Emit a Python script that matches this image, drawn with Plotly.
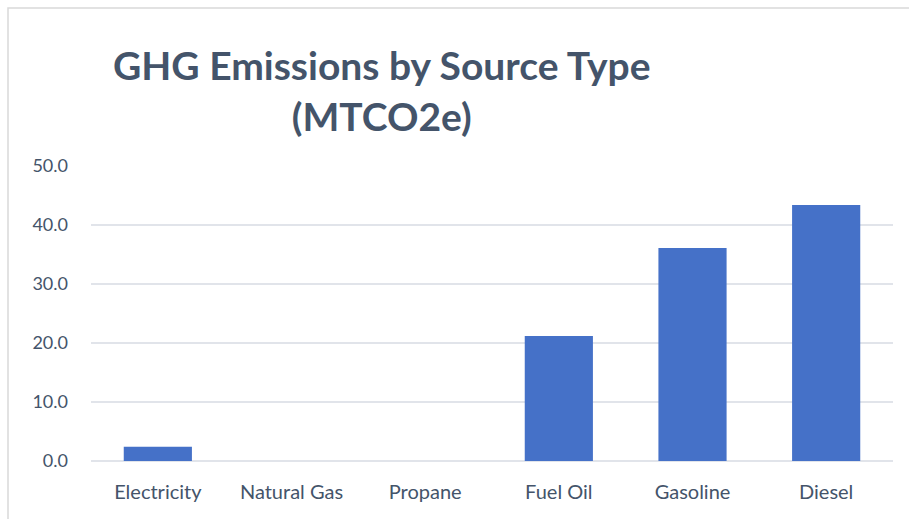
import plotly.graph_objects as go

categories = ["Electricity", "Natural Gas", "Propane", "Fuel Oil", "Gasoline", "Diesel"]
values = [2.4, 0.0, 0.0, 21.2, 36.1, 43.4]
y_ticks = [0, 10, 20, 30, 40, 50]
y_tick_labels = ["0.0", "10.0", "20.0", "30.0", "40.0", "50.0"]

text_color = "#44546A"
grid_color = "#E1E4EA"

fig = go.Figure()
fig.add_trace(go.Bar(
    x=categories, y=values,
    marker=dict(color="#4571C8", line=dict(width=0)),
    hoverinfo="x+y",
))

fig.update_layout(
    width=909, height=519,
    margin=dict(l=91, r=16, t=166, b=58),
    paper_bgcolor="white", plot_bgcolor="white",
    bargap=0.49,
    showlegend=False,
    font=dict(family="Lato, Open Sans, sans-serif", color=text_color, size=18),
    xaxis=dict(showgrid=False, showline=False, ticks="", ticklabelstandoff=17,
               tickfont=dict(size=20, color=text_color)),
    yaxis=dict(range=[0, 50], tickvals=y_ticks, ticktext=y_tick_labels,
               showgrid=True, gridcolor=grid_color, gridwidth=1.5,
               zeroline=True, zerolinecolor=grid_color, zerolinewidth=1.5,
               showline=False, ticks="", ticklabelstandoff=22,
               tickfont=dict(size=18, color=text_color)),
    annotations=[dict(
        text="<b>GHG Emissions by Source Type<br>(MTCO2e)</b>",
        xref="paper", yref="paper", x=(382 - 91) / 802, y=(461 - 40) / 295,
        xanchor="center", yanchor="top", showarrow=False, align="center",
        font=dict(size=39, color=text_color, family="Lato, Open Sans, sans-serif"),
    )],
    shapes=[dict(type="rect", xref="paper", yref="paper",
                 x0=(8 - 91) / 802, y0=-0.5, x1=1.2, y1=(461 - 8) / 295,
                 line=dict(color="#D9D9D9", width=1.5), fillcolor="rgba(0,0,0,0)", layer="below")],
)

fig.write_html("out.html")
